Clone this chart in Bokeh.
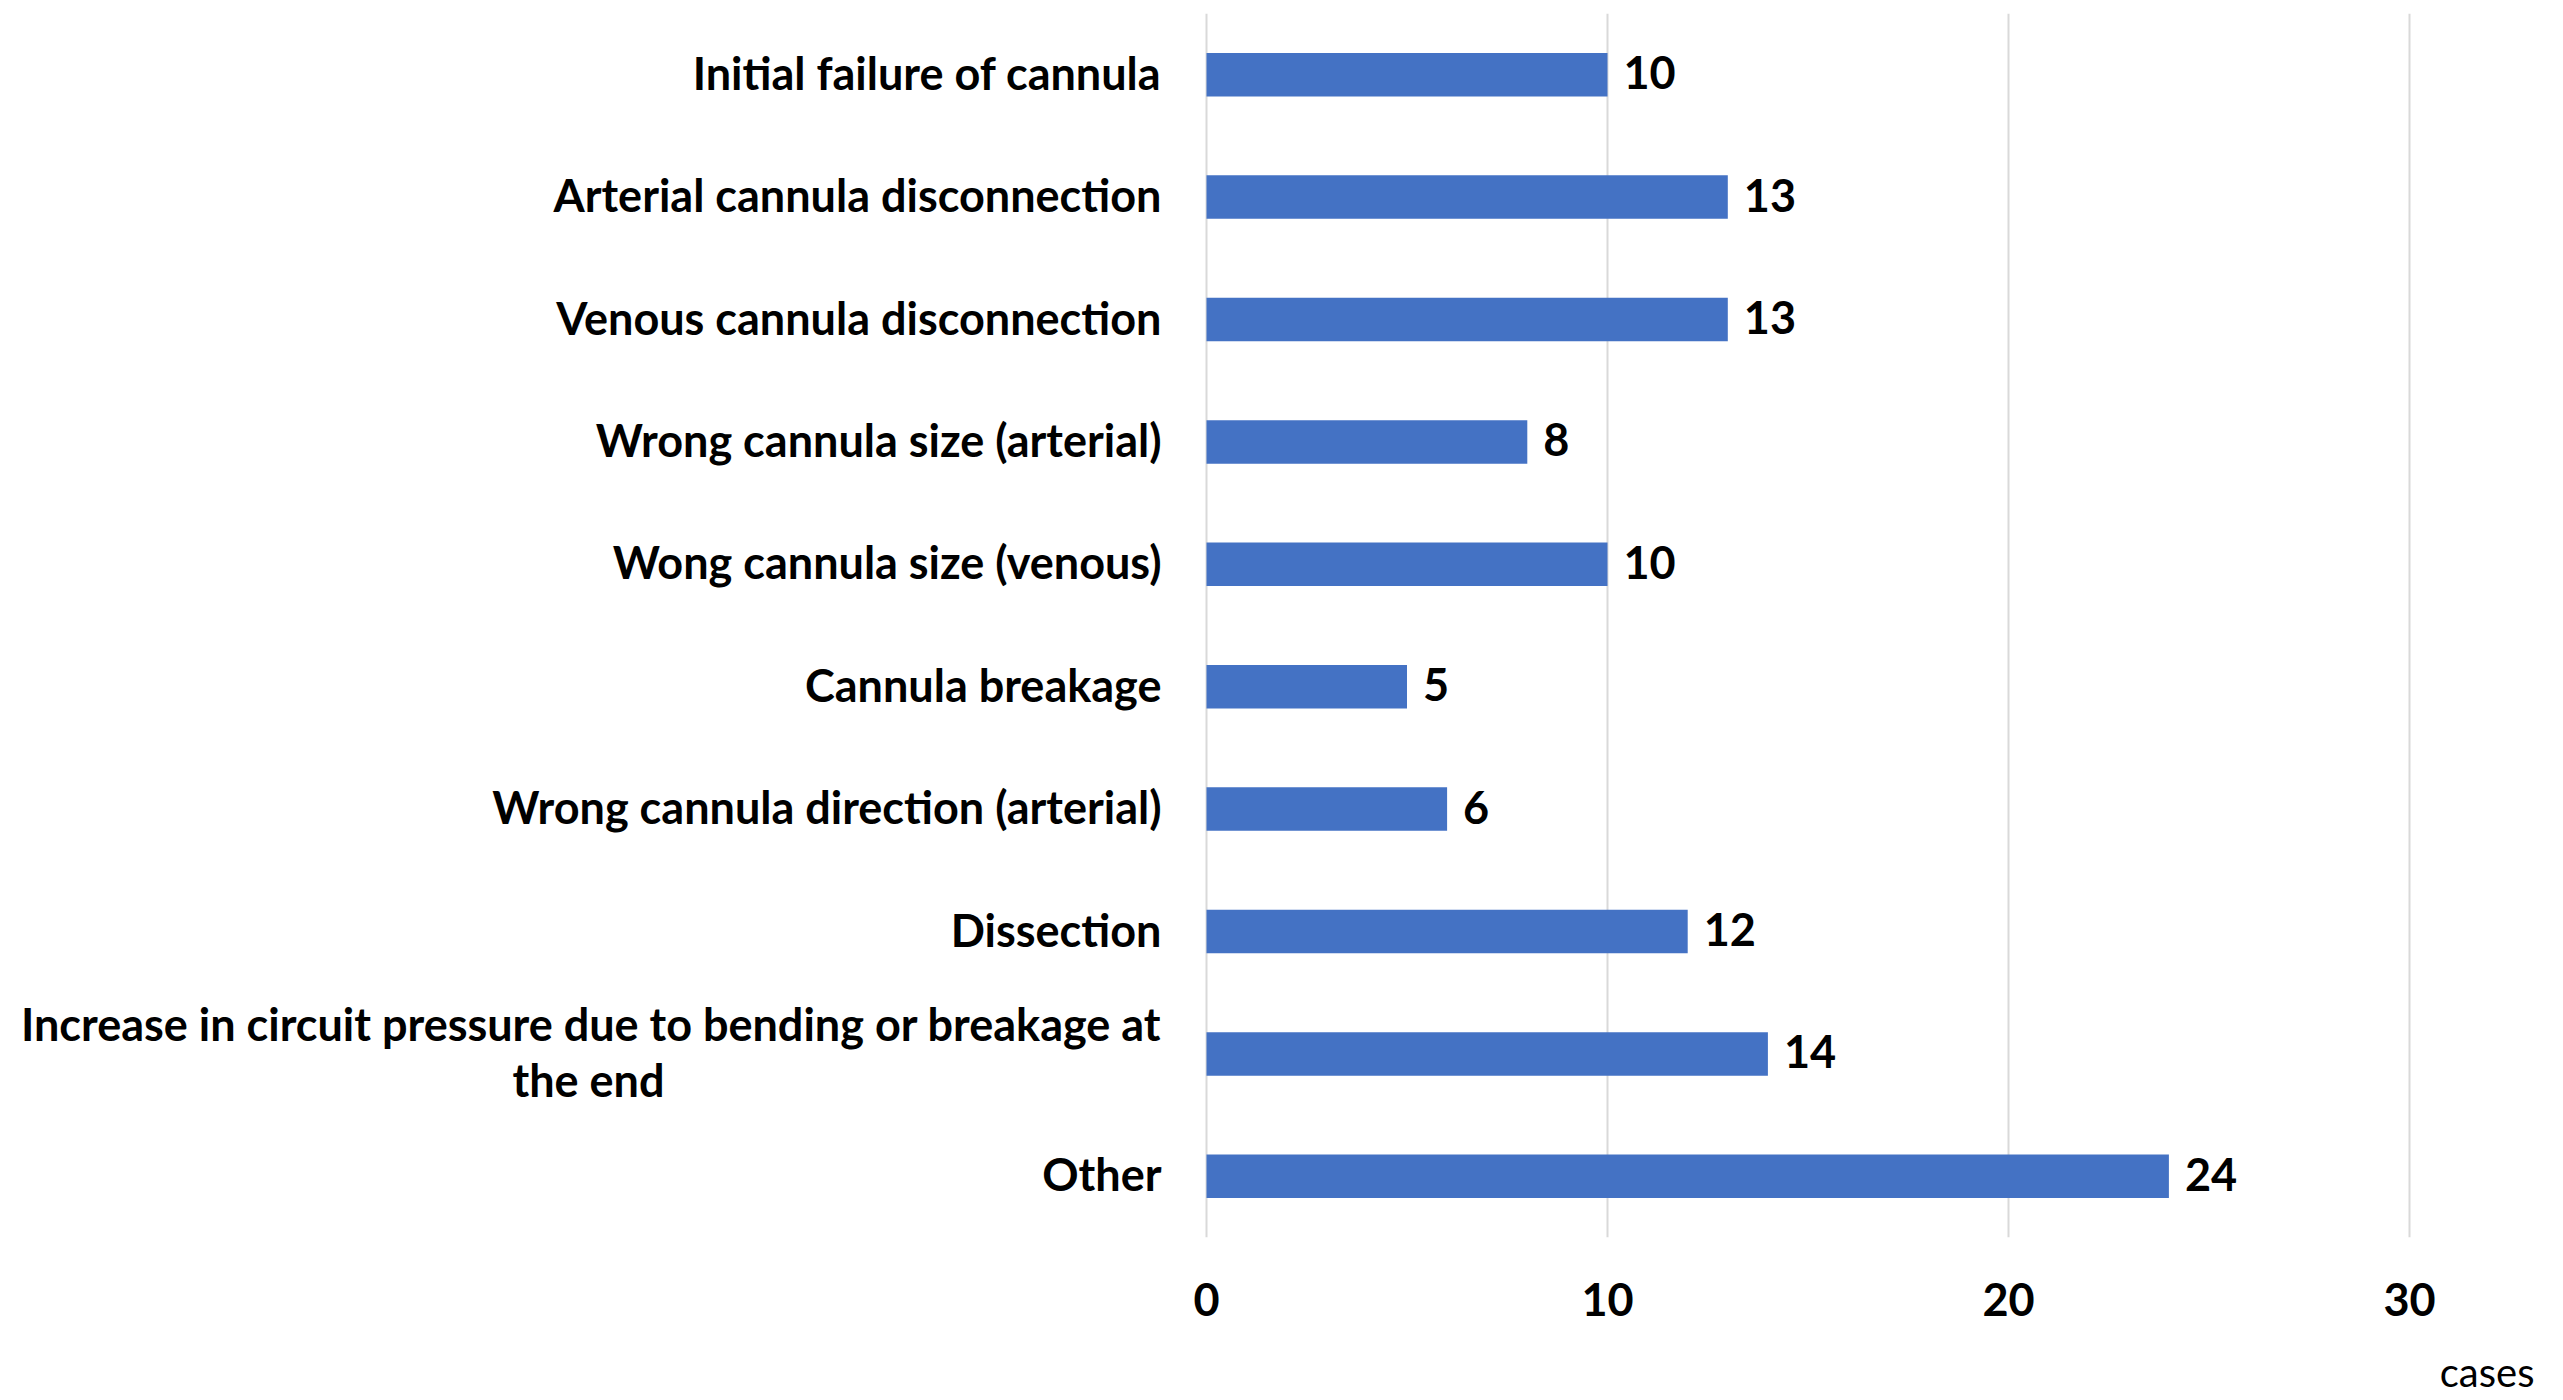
from bokeh.plotting import figure
from bokeh.models import ColumnDataSource, Range1d, FactorRange, Title
from bokeh.embed import file_html
from bokeh.resources import INLINE
from bokeh.core.properties import value

categories = [
    "Initial failure of cannula",
    "Arterial cannula disconnection",
    "Venous cannula disconnection",
    "Wrong cannula size (arterial)",
    "Wong cannula size (venous)",
    "Cannula breakage",
    "Wrong cannula direction (arterial)",
    "Dissection",
    "Increase in circuit pressure due to bending or breakage at the end",
    "Other",
]
cases = [10, 13, 13, 8, 10, 5, 6, 12, 14, 24]
x_ticks = [0, 10, 20, 30]
x_title = "cases"
# wrapped display lines of the long category label
long_first = "Increase in circuit pressure due to bending or breakage at"
long_second = "the end"

FONT = "Lato"
FS = "45px"

PX_PER_UNIT = 40.1
LEFT_PX = 1206      # pixels left of the value 0 that hold the category labels
FRAME_W = 2413

src = ColumnDataSource(dict(cat=categories, val=cases, lbl=[str(v) for v in cases]))

p = figure(
    frame_width=FRAME_W, frame_height=1224,
    y_range=FactorRange(factors=list(reversed(categories))),
    x_range=Range1d(-LEFT_PX / PX_PER_UNIT, (FRAME_W - LEFT_PX) / PX_PER_UNIT),
    output_backend="svg", toolbar_location=None,
    min_border_left=0, min_border_right=142,
    min_border_top=13, min_border_bottom=20,
)
p.outline_line_color = None
p.background_fill_color = "white"

p.hbar(y="cat", right="val", left=0, height=0.355, source=src,
       fill_color="#4472C4", line_color=None)
p.text(x="val", y="cat", text="lbl", source=src, x_offset=16, y_offset=-2,
       text_baseline="middle", text_align="left",
       text_font=value(FONT), text_font_style="bold", text_font_size=FS,
       text_color="black")

# category labels
single = [c for c in categories if c != categories[8]]
lab_right = ColumnDataSource(dict(
    x=[0] * (len(single) + 1),
    y=single + [categories[8]],
    t=single + [long_first],
    yo=[-2] * len(single) + [-30],
))
lab_center = ColumnDataSource(dict(x=[0], y=[categories[8]], t=[long_second], yo=[26]))
p.text(x="x", y="y", text="t", y_offset="yo", x_offset=-45, source=lab_right,
       text_align="right", text_baseline="middle",
       text_font=value(FONT), text_font_style="bold",
       text_font_size=FS, text_color="black")
p.text(x="x", y="y", text="t", y_offset="yo", x_offset=-618, source=lab_center,
       text_align="center", text_baseline="middle",
       text_font=value(FONT), text_font_style="bold",
       text_font_size=FS, text_color="black")
p.yaxis.visible = False

# x axis
p.xaxis.ticker = x_ticks
p.xaxis.axis_line_color = None
p.xaxis.major_tick_line_color = None
p.xaxis.minor_tick_line_color = None
p.xaxis.major_label_text_font = FONT
p.xaxis.major_label_text_font_style = "bold"
p.xaxis.major_label_text_font_size = FS
p.xaxis.major_label_text_color = "black"
p.xaxis.major_label_standoff = 39

p.ygrid.grid_line_color = None
p.xgrid.grid_line_color = "#D9D9D9"
p.xgrid.grid_line_width = 2

p.add_layout(Title(text=x_title, align="right", text_font=FONT,
                   text_font_style="normal", text_font_size="40px",
                   text_color="black", offset=-121, standoff=55), "below")

open("out.html", "w").write(file_html(p, INLINE))
